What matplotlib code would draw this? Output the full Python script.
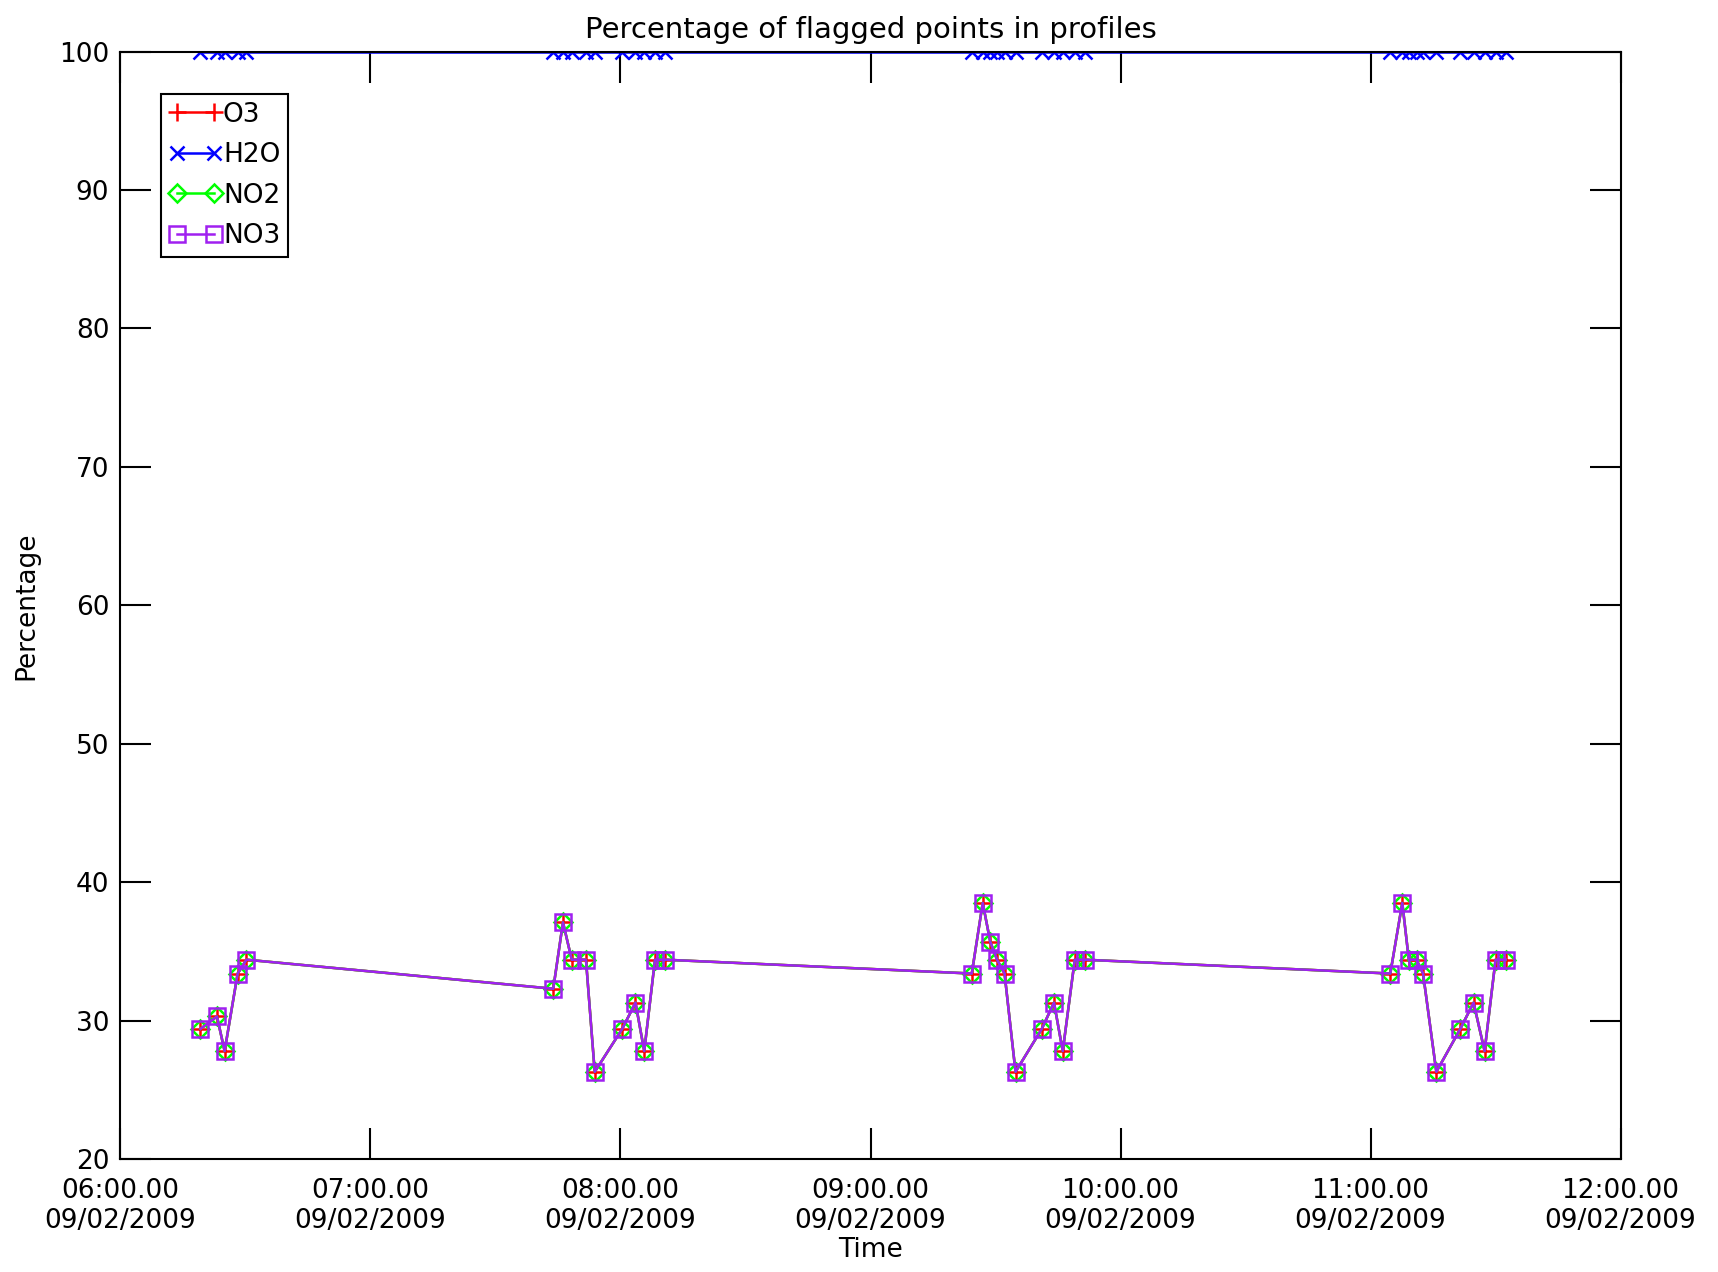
import numpy as np
import pandas as pd
import matplotlib
matplotlib.use('Agg')
import matplotlib.pyplot as plt
import matplotlib.dates as mdates

# profile times (09/02/2009) and percentage of flagged points
times = ['06:19:12', '06:23:10', '06:25:00', '06:28:08', '06:30:14',
         '07:43:52', '07:46:12', '07:48:18', '07:51:43', '07:53:49',
         '08:00:25', '08:03:36', '08:05:42', '08:08:17', '08:10:41',
         '09:24:18', '09:26:56', '09:28:44', '09:30:22', '09:32:10',
         '09:34:48', '09:41:06', '09:44:02', '09:46:08', '09:49:01', '09:51:22',
         '11:04:44', '11:07:37', '11:09:11', '11:11:02', '11:12:36',
         '11:15:47', '11:21:32', '11:24:43', '11:27:22', '11:30:00', '11:32:24']
pct = [29.4, 30.3, 27.8, 33.4, 34.4,
       32.3, 37.1, 34.4, 34.4, 26.3,
       29.4, 31.3, 27.8, 34.4, 34.4,
       33.4, 38.5, 35.7, 34.4, 33.4,
       26.3, 29.4, 31.3, 27.8, 34.4, 34.4,
       33.4, 38.5, 34.4, 34.4, 33.4,
       26.3, 29.4, 31.3, 27.8, 34.4, 34.4]
o3 = pct
no2 = pct
no3 = pct
h2o = [100.0] * len(times)

t = pd.to_datetime(['2009-02-09 ' + s for s in times])

plt.rcParams['font.family'] = 'DejaVu Sans'
fig = plt.figure(figsize=(17.18, 12.72), dpi=100)
ax = fig.add_axes([0.0701, 0.0888, 0.8732, 0.8707])

ax.plot(t, o3, color='red', marker='+', ms=13, mew=1.8, lw=1.8, label='O3')
ax.plot(t, h2o, color='blue', marker='x', ms=10, mew=1.8, lw=1.8, label='H2O')
ax.plot(t, no2, color='#00ff00', marker='D', ms=9, mfc='none', mew=1.8, lw=1.8, label='NO2')
ax.plot(t, no3, color='#a020f0', marker='s', ms=12, mfc='none', mew=1.8, lw=1.8, label='NO3')

ax.set_xlim(pd.Timestamp('2009-02-09 06:00'), pd.Timestamp('2009-02-09 12:00'))
ax.set_ylim(20, 100)
ax.xaxis.set_major_locator(mdates.HourLocator())
ax.xaxis.set_major_formatter(mdates.DateFormatter('%H:%M.%S\n%d/%m/%Y'))
ax.set_yticks(np.arange(20, 101, 10))
ax.tick_params(direction='in', length=22, width=1.5, top=True, right=True,
               labelsize=19)
ax.tick_params(axis='x', pad=14)
ax.tick_params(axis='y', pad=8)
for sp in ax.spines.values():
    sp.set_linewidth(1.5)

ax.set_title('Percentage of flagged points in profiles', fontsize=21, pad=10)
ax.set_xlabel('Time', fontsize=19, labelpad=2)
ax.set_ylabel('Percentage', fontsize=19, labelpad=14)

leg = ax.legend(loc='upper left', bbox_to_anchor=(0.027, 0.962), numpoints=2,
                fontsize=19, fancybox=False, edgecolor='black', framealpha=1,
                handlelength=2.0, handletextpad=0.05, borderpad=0.3,
                borderaxespad=0, labelspacing=0.55)
leg.get_frame().set_linewidth(1.5)

fig.savefig('out.png', dpi=100)
